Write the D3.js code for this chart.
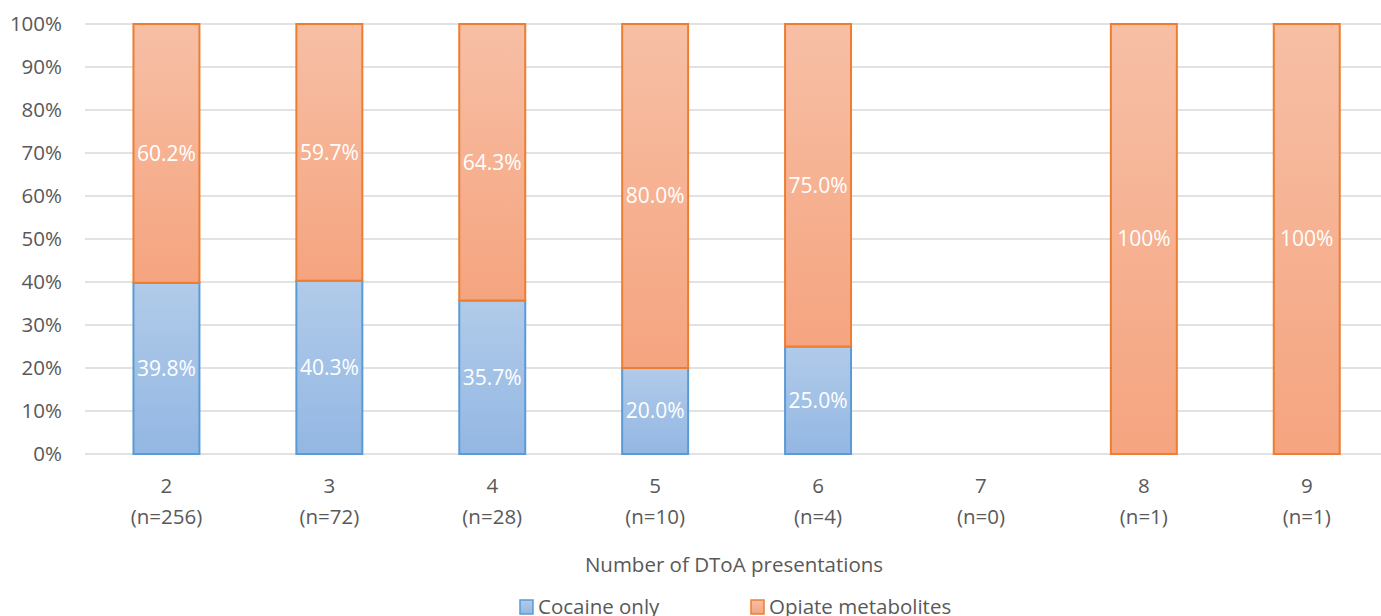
<!DOCTYPE html>
<html><head><meta charset="utf-8">
<script src="https://cdn.jsdelivr.net/npm/d3@7"></script>
<style>body{margin:0;background:#fff;}svg{display:block;font-family:"Open Sans","Noto Sans",sans-serif;}</style>
</head><body>
<svg id="chart" width="1381" height="616"></svg>
<script>
const categories = ["2","3","4","5","6","7","8","9"];
const counts = ["(n=256)","(n=72)","(n=28)","(n=10)","(n=4)","(n=0)","(n=1)","(n=1)"];
const cocaine = [39.8, 40.3, 35.7, 20.0, 25.0, 0, 0, 0];
const opiate = [60.2, 59.7, 64.3, 80.0, 75.0, 0, 100, 100];
const cocaineLabels = ["39.8%","40.3%","35.7%","20.0%","25.0%","","",""];
const opiateLabels = ["60.2%","59.7%","64.3%","80.0%","75.0%","","100%","100%"];
const yTicks = [0,10,20,30,40,50,60,70,80,90,100];
const seriesNames = ["Cocaine only","Opiate metabolites"];

const svg = d3.select("#chart");
const x = d3.scaleBand().domain(categories).range([85, 85+8*162.9]).paddingInner(0.595).paddingOuter(0.2975);
const y = d3.scaleLinear().domain([0,100]).range([454,24]);

const defs = svg.append("defs");
function grad(id, c1, c2){
  const g = defs.append("linearGradient").attr("id",id).attr("x1",0).attr("y1",0).attr("x2",0).attr("y2",1);
  g.append("stop").attr("offset","0%").attr("stop-color",c1);
  g.append("stop").attr("offset","100%").attr("stop-color",c2);
}
grad("gBlue","#B1CBE9","#93B7E3");
grad("gOrange","#F7BFA5","#F5A47F");

svg.append("g").selectAll("line").data(yTicks).join("line")
  .attr("x1",85).attr("x2",1381).attr("y1",d=>y(d)).attr("y2",d=>y(d))
  .attr("stroke","#D9D9D9").attr("stroke-width",1.3);

svg.append("g").selectAll("text").data(yTicks).join("text")
  .attr("x",62).attr("y",d=>y(d)).attr("dy","0.35em").attr("text-anchor","end")
  .attr("fill","#595959").attr("font-size",20.5).text(d=>d+"%");

const bw = x.bandwidth();
const rows = categories.map((c,i)=>({c, a:cocaine[i], b:opiate[i], la:cocaineLabels[i], lb:opiateLabels[i]}));
const g = svg.append("g");
rows.forEach(r=>{
  if (r.a>0){
    g.append("rect").attr("x",x(r.c)).attr("width",bw).attr("y",y(r.a)).attr("height",y(0)-y(r.a))
      .attr("fill","url(#gBlue)").attr("stroke","#5B9BD5").attr("stroke-width",2);
  }
  if (r.b>0){
    g.append("rect").attr("x",x(r.c)).attr("width",bw).attr("y",y(r.a+r.b)).attr("height",y(r.a)-y(r.a+r.b))
      .attr("fill","url(#gOrange)").attr("stroke","#ED7D31").attr("stroke-width",2);
  }
});
rows.forEach(r=>{
  if (r.la) g.append("text").attr("x",x(r.c)+bw/2).attr("y",y(r.a/2)).attr("dy","0.35em")
    .attr("text-anchor","middle").attr("fill","#fff").attr("font-size",21).text(r.la);
  if (r.lb) g.append("text").attr("x",x(r.c)+bw/2).attr("y",y(r.a+r.b/2)).attr("dy","0.35em")
    .attr("text-anchor","middle").attr("fill","#fff").attr("font-size",21).text(r.lb);
});

const xl = svg.append("g");
categories.forEach((c,i)=>{
  xl.append("text").attr("x",x(c)+bw/2).attr("y",486).attr("dy","0.35em").attr("text-anchor","middle")
    .attr("fill","#595959").attr("font-size",20.5).text(c);
  xl.append("text").attr("x",x(c)+bw/2).attr("y",517).attr("dy","0.35em").attr("text-anchor","middle")
    .attr("fill","#595959").attr("font-size",20.5).text(counts[i]);
});
svg.append("text").attr("x",734).attr("y",565).attr("dy","0.35em").attr("text-anchor","middle")
  .attr("fill","#595959").attr("font-size",20.5).text("Number of DToA presentations");

const leg = [{n:seriesNames[0],f:"url(#gBlue)",s:"#5B9BD5",x:520},{n:seriesNames[1],f:"url(#gOrange)",s:"#ED7D31",x:751}];
leg.forEach(l=>{
  svg.append("rect").attr("x",l.x).attr("y",600).attr("width",13).attr("height",14).attr("fill",l.f).attr("stroke",l.s).attr("stroke-width",1.5);
  svg.append("text").attr("x",l.x+18).attr("y",607).attr("dy","0.35em").attr("fill","#595959").attr("font-size",20.5).text(l.n);
});
</script>
</body></html>
